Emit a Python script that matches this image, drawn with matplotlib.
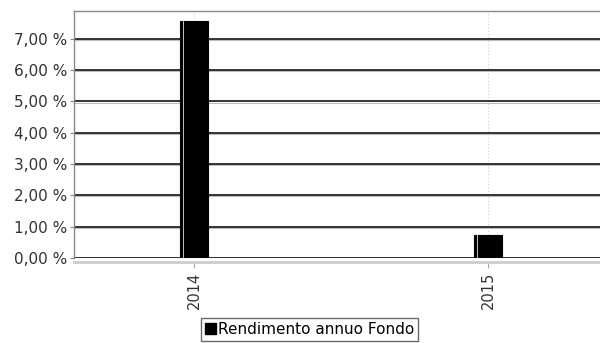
import numpy as np
import matplotlib
matplotlib.use("Agg")
import matplotlib.pyplot as plt
from matplotlib.patches import Rectangle

# ── Data ──────────────────────────────────────────────────────────────────
years = ["2014", "2015"]
returns = [7.57, 0.73]          # rendimento annuo, %
yticks = [0, 1, 2, 3, 4, 5, 6, 7]
series_name = "Rendimento annuo Fondo"

W, H = 600, 343
fig = plt.figure(figsize=(W / 100, H / 100), dpi=100)
# plot area in pixels: left 74, right 600, top 11, bottom 258
ax = fig.add_axes([74 / W, 1 - 258 / H, (600 - 74) / W, (258 - 11) / H])

# spines first (set_position resets the tick labels)
for side in ["top", "left"]:
    ax.spines[side].set_color("#888888")
    ax.spines[side].set_linewidth(1.0)
ax.spines["right"].set_visible(False)
ax.spines["bottom"].set_color("#cccccc")
ax.spines["bottom"].set_linewidth(2)
ax.spines["bottom"].set_position(("outward", 3))

x = np.arange(len(years))
bar_w = 28 / 294   # 294 px between categories
ax.bar(x, returns, width=bar_w, color="black", edgecolor="black",
       linewidth=0.8, zorder=3)
# light highlight stripe on the left of each bar
ax.bar(x - bar_w / 2 + bar_w * 0.13, returns, width=bar_w * 0.06,
       color="#bbbbbb", linewidth=0, zorder=4)

ax.set_xlim(-120 / 294, (600 - 194) / 294)
ax.set_ylim(0, 7.89)

# horizontal grid: dark line with grey shadow
for v in yticks:
    ax.axhline(v, color="#222222", lw=1.3, zorder=2)
    ax.axhline(v - 0.035, color="#bbbbbb", lw=0.8, zorder=1)
# vertical dotted grid at categories
for xi in x:
    ax.axvline(xi, color="#cccccc", lw=0.8, ls=(0, (1, 2)), zorder=0)

ax.set_yticks(yticks)
ax.set_yticklabels([f"{v:.2f}".replace(".", ",") + " %" for v in yticks],
                   fontsize=11, color="#333333")
ax.set_xticks(x)
ax.set_xticklabels(years, rotation=90, fontsize=10.5, color="#333333")
ax.tick_params(axis="y", length=3, color="#888888", pad=2)
ax.tick_params(axis="x", length=4, color="#aaaaaa", pad=3)

handle = Rectangle((0, 0), 1, 1, facecolor="black", edgecolor="black")
leg = fig.legend([handle], [series_name], loc="lower left",
                 bbox_to_anchor=(201 / W, 2 / H), fontsize=11,
                 frameon=True, fancybox=False, handlelength=0.7,
                 handleheight=0.7, handletextpad=0.15, borderpad=0.25,
                 borderaxespad=0)
leg.get_frame().set_edgecolor("#444444")
leg.get_frame().set_linewidth(1.0)

fig.savefig("out.png", dpi=100)
